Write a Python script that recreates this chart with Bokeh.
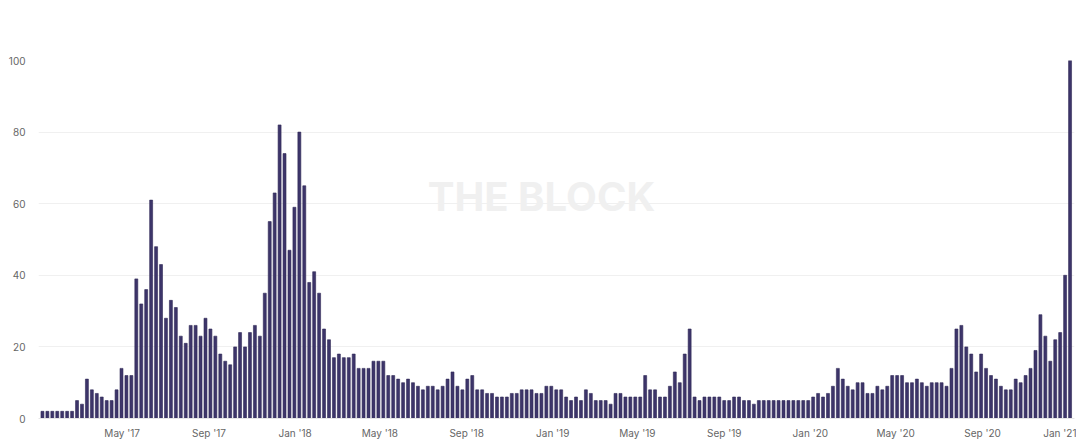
import pandas as pd
from bokeh.plotting import figure
from bokeh.models import ColumnDataSource, Range1d, FixedTicker, Label
from bokeh.embed import file_html
from bokeh.resources import INLINE

# ---- data (weekly values) ----
start_date = "2017-01-08"
values = [
    2, 2, 2, 2, 2, 2, 2,
    5, 4, 11, 8, 7, 6, 5, 5, 8, 14, 12, 12,
    39, 32, 36, 61, 48, 43, 28, 33, 31, 23, 21, 26, 26, 23, 28,
    25, 23, 18, 16, 15, 20, 24, 20, 24, 26, 23,
    35, 55, 63, 82, 74, 47, 59, 80, 65, 38, 41, 35,
    25, 22, 17, 18, 17, 17, 18, 14, 14, 14, 16, 16, 16,
    12, 12, 11, 10, 11, 10, 9, 8, 9, 9, 8, 9, 11, 13,
    9, 8, 11, 12, 8, 8, 7, 7, 6, 6, 6, 7, 7, 8, 8, 8, 7, 7, 9, 9, 8, 8,
    6, 5, 6, 5, 8, 7, 5, 5, 5, 4, 7, 7, 6, 6, 6, 6, 12,
    8, 8, 6, 6, 9, 13, 10, 18, 25, 6, 5, 6, 6, 6, 6, 5, 5, 6, 6,
    5, 5, 4, 5, 5, 5, 5, 5, 5, 5, 5, 5, 5, 5,
    6, 7, 6, 7, 9, 14, 11, 9, 8, 10, 10, 7, 7, 9, 8, 9, 12, 12, 12, 10, 10,
    11, 10, 9, 10, 10, 10, 9, 14, 25, 26, 20, 18, 13, 18, 14, 12, 11, 9, 8, 8,
    11, 10, 12, 14, 19, 29, 23, 16, 22, 24, 40, 100,
]
tick_dates = ["2017-05-01", "2017-09-01", "2018-01-01", "2018-05-01", "2018-09-01",
              "2019-01-01", "2019-05-01", "2019-09-01", "2020-01-01", "2020-05-01",
              "2020-09-01", "2020-12-24"]
tick_labels = ["May '17", "Sep '17", "Jan '18", "May '18", "Sep '18", "Jan '19",
               "May '19", "Sep '19", "Jan '20", "May '20", "Sep '20", "Jan '21"]
y_ticks = [0, 20, 40, 60, 80, 100]

dates = pd.date_range(start_date, periods=len(values), freq="7D")
src = ColumnDataSource(dict(x=dates, y=values))

week_ms = 7 * 24 * 3600 * 1000
x0 = dates[0].value // 10**6 - 0.8 * week_ms
x1 = dates[-1].value // 10**6 + 0.9 * week_ms

p = figure(width=1076, height=441, x_axis_type="datetime",
           output_backend="svg", toolbar_location=None,
           x_range=Range1d(x0, x1), y_range=Range1d(0, 100),
           min_border_left=38, min_border_right=2, min_border_top=60, min_border_bottom=0)
p.outline_line_color = None
p.background_fill_color = "white"
p.border_fill_color = "white"

p.vbar(x="x", top="y", width=0.6 * week_ms, source=src,
       fill_color="#3d356a", line_color="#2f2856", line_width=0.6)

# watermark
wm = Label(x=503, y=222, x_units="screen", y_units="screen", text="THE BLOCK",
           text_align="center", text_baseline="middle", text_font="Inter",
           text_font_style="bold", text_font_size="40px", text_color="#f0f0f0")
p.add_layout(wm)

# axes
tick_ms = [pd.Timestamp(d).value // 10**6 for d in tick_dates]
p.xaxis.ticker = FixedTicker(ticks=tick_ms)
p.xaxis.major_label_overrides = {t: l for t, l in zip(tick_ms, tick_labels)}
p.xaxis.axis_line_color = "#e6e6e6"
p.xaxis.major_tick_line_color = None
p.xaxis.minor_tick_line_color = None
p.xaxis.major_label_standoff = 2
p.xaxis.major_label_text_font = "Inter"
p.xaxis.major_label_text_font_size = "10px"
p.xaxis.major_label_text_color = "#666666"

p.yaxis.ticker = FixedTicker(ticks=y_ticks)
p.yaxis.axis_line_color = None
p.yaxis.major_tick_line_color = None
p.yaxis.minor_tick_line_color = None
p.yaxis.major_label_standoff = 7
p.yaxis.major_label_text_font = "Inter"
p.yaxis.major_label_text_font_size = "10px"
p.yaxis.major_label_text_color = "#666666"

p.xgrid.grid_line_color = None
p.ygrid.ticker = FixedTicker(ticks=y_ticks[1:])
p.ygrid.grid_line_color = "#f0f0f0"
p.ygrid.grid_line_width = 1

open("out.html", "w").write(file_html(p, INLINE))
